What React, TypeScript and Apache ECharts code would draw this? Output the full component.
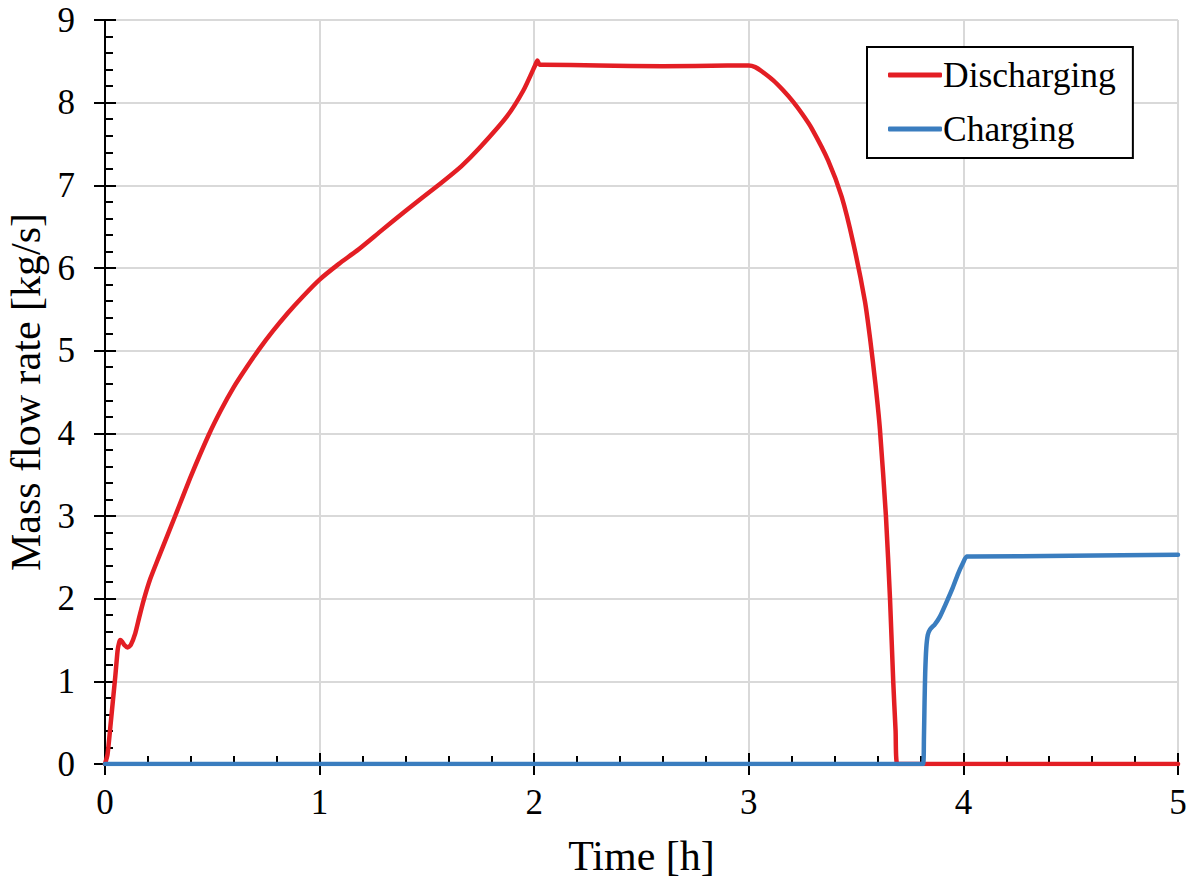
import React, { useEffect, useRef } from "react";
import * as echarts from "echarts";

const dischargeTime = [0, 0.012, 0.025, 0.04, 0.048, 0.059, 0.066, 0.071, 0.08, 0.09, 0.105, 0.12, 0.141, 0.16, 0.18, 0.211, 0.25, 0.29, 0.327, 0.4, 0.483, 0.54, 0.6, 0.66, 0.716, 0.78, 0.85, 0.92, 1.0, 1.09, 1.174, 1.282, 1.4, 1.562, 1.66, 1.748, 1.872, 1.95, 2.004, 2.015, 2.025, 2.043, 2.3, 2.6, 2.9, 2.98, 3.0, 3.03, 3.06, 3.114, 3.16, 3.207, 3.25, 3.293, 3.37, 3.433, 3.487, 3.541, 3.565, 3.59, 3.611, 3.639, 3.658, 3.673, 3.684, 3.692, 4.0, 5.0];
const dischargeFlow = [0, 0.12, 0.45, 0.85, 1.06, 1.38, 1.47, 1.5, 1.48, 1.44, 1.41, 1.44, 1.58, 1.78, 1.98, 2.24, 2.5, 2.76, 3.0, 3.48, 3.98, 4.28, 4.56, 4.8, 5.01, 5.23, 5.45, 5.65, 5.86, 6.05, 6.21, 6.44, 6.69, 7.02, 7.23, 7.46, 7.83, 8.15, 8.45, 8.51, 8.46, 8.46, 8.45, 8.44, 8.45, 8.45, 8.45, 8.43, 8.38, 8.27, 8.15, 8.01, 7.86, 7.69, 7.3, 6.86, 6.3, 5.6, 5.15, 4.6, 4.05, 3.0, 2.0, 1.0, 0.4, 0, 0, 0];

const chargeTime = [0, 3.812, 3.816, 3.819, 3.822, 3.827, 3.834, 3.845, 3.867, 3.89, 3.92, 3.95, 3.975, 3.998, 4.015, 4.04, 4.5, 5.0];
const chargeFlow = [0, 0, 0.3, 0.75, 1.1, 1.4, 1.56, 1.63, 1.69, 1.78, 1.95, 2.13, 2.3, 2.43, 2.51, 2.51, 2.52, 2.53];

const xTicks = { min: 0, max: 5, interval: 1 };
const yTicks = { min: 0, max: 9, interval: 1 };

const FONT = "'Liberation Serif', 'Times New Roman', serif";

export default function App() {
  const ref = useRef<HTMLDivElement>(null);
  useEffect(() => {
    if (!ref.current) return;
    const chart = echarts.init(ref.current, null, { renderer: "svg" });
    const discharge = dischargeTime.map((t, i) => [t, dischargeFlow[i]]);
    const charge = chargeTime.map((t, i) => [t, chargeFlow[i]]);
    const axisLine = { show: true, lineStyle: { color: "#000", width: 2 } };
    chart.setOption({
      animation: false,
      backgroundColor: "#fff",
      textStyle: { fontFamily: FONT },
      grid: { left: 105, right: 14, top: 20, bottom: 118, containLabel: false, outerBoundsMode: "none" },
      legend: {
        orient: "vertical",
        left: 867,
        top: 47,
        padding: [10, 17, 11, 21],
        itemGap: 18,
        itemWidth: 54,
        itemHeight: 5,
        icon: "roundRect",
        backgroundColor: "#fff",
        borderColor: "#000",
        borderWidth: 2,
        borderRadius: 0,
        textStyle: { fontFamily: FONT, fontSize: 35.5, color: "#000", padding: [0, 0, 0, -4] },
        data: ["Discharging", "Charging"],
      },
      xAxis: [
        {
          type: "value",
          ...xTicks,
          name: "Time [h]",
          nameLocation: "middle",
          nameGap: 71,
          nameTextStyle: { fontFamily: FONT, fontSize: 42, color: "#000" },
          axisLine,
          axisTick: { show: true, inside: true, length: 11, lineStyle: { color: "#000", width: 2 } },
          minorTick: { show: true, splitNumber: 5, length: 8, lineStyle: { color: "#000", width: 2 } },
          axisLabel: { fontFamily: FONT, fontSize: 35, color: "#000", margin: 21 },
          splitLine: { show: true, lineStyle: { color: "#d9d9d9", width: 2 } },
        },
        {
          type: "value",
          ...xTicks,
          position: "bottom",
          axisLine: { show: false },
          axisTick: { show: true, inside: false, length: 11, lineStyle: { color: "#000", width: 2 } },
          axisLabel: { show: false },
          splitLine: { show: false },
        },
      ],
      yAxis: [
        {
          type: "value",
          ...yTicks,
          name: "Mass flow rate [kg/s]",
          nameLocation: "middle",
          nameGap: 57,
          nameTextStyle: { fontFamily: FONT, fontSize: 42, color: "#000" },
          axisLine,
          axisTick: { show: true, inside: true, length: 11, lineStyle: { color: "#000", width: 2 } },
          minorTick: { show: true, splitNumber: 5, length: 8, lineStyle: { color: "#000", width: 2 } },
          axisLabel: { fontFamily: FONT, fontSize: 35, color: "#000", margin: 30 },
          splitLine: { show: true, lineStyle: { color: "#d9d9d9", width: 2 } },
        },
        {
          type: "value",
          ...yTicks,
          position: "left",
          axisLine: { show: false },
          axisTick: { show: true, inside: false, length: 11, lineStyle: { color: "#000", width: 2 } },
          axisLabel: { show: false },
          splitLine: { show: false },
        },
      ],
      series: [
        {
          name: "Discharging",
          type: "line",
          data: discharge,
          symbol: "none",
          smooth: 0.2,
          lineStyle: { color: "#E31E24", width: 4.5, cap: "round", join: "round" },
          itemStyle: { color: "#E31E24" },
        },
        {
          name: "Charging",
          type: "line",
          data: charge,
          symbol: "none",
          smooth: 0.2,
          lineStyle: { color: "#3A7DBF", width: 4.5, cap: "round", join: "round" },
          itemStyle: { color: "#3A7DBF" },
        },
      ],
    });
    return () => chart.dispose();
  }, []);
  return <div ref={ref} style={{ width: 1192, height: 882, position: "absolute", left: 0, top: 0 }} />;
}
